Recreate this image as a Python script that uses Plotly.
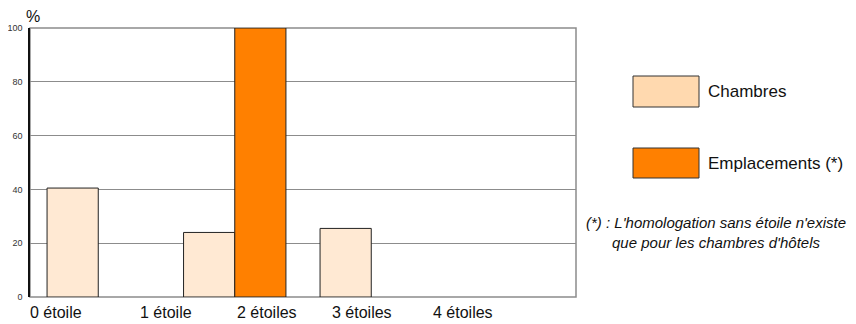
import plotly.graph_objects as go

# data
categories = ['0 étoile', '1 étoile', '2 étoiles', '3 étoiles']
chambres = [40.5, 24, 25.5, None]
emplacements = [None, 100, None, None]
tick_labels = ['0 étoile', '1 étoile', '2 étoiles', '3 étoiles', '4 étoiles']
series_names = ['Chambres', 'Emplacements (*)']
footnote = "(*) : L'homologation sans étoile n'existe<br>que pour les chambres d'hôtels"

# page has an 8px body margin, so the figure is drawn 8px in from the top-left corner
OFF = 8
W, H = 856 - OFF, 324 - OFF
L, R, T, B = 30 - OFF, 280, 28 - OFF, 27
FONT = 'Liberation Sans, Arial, sans-serif'


def px_x(p):
    return (p - OFF - L) / (W - L - R)


def px_y(p):
    return (H - B - (p - OFF)) / (H - T - B)


fig = go.Figure()
fig.add_trace(go.Bar(x=categories, y=chambres, name=series_names[0],
                     marker=dict(color='#FFE9D3', line=dict(color='#222', width=1))))
fig.add_trace(go.Bar(x=categories, y=emplacements, name=series_names[1],
                     marker=dict(color='#FF8000', line=dict(color='#222', width=1))))

# frame (top/right grey)
shapes = [dict(type='rect', xref='paper', yref='paper', x0=0, x1=1, y0=0, y1=1,
               line=dict(color='#8c8c8c', width=1.5), layer='below')]

# legend swatches
legend_rows = [(76, 107, '#FFD9AF'), (148, 178, '#FF8000')]
annotations = []
for (top, bot, col), name in zip(legend_rows, series_names):
    shapes.append(dict(type='rect', xref='paper', yref='paper',
                       x0=px_x(633), x1=px_x(699), y0=px_y(bot), y1=px_y(top),
                       fillcolor=col, line=dict(color='#333', width=1)))
    annotations.append(dict(xref='paper', yref='paper', x=px_x(706), y=px_y((top + bot) / 2),
                            text=name, showarrow=False, xanchor='left', yanchor='middle',
                            font=dict(size=17, color='#111', family=FONT)))

# x labels (placed as in the original chart)
label_px = [56, 166, 267, 362, 463]
for lab, p in zip(tick_labels, label_px):
    annotations.append(dict(xref='paper', yref='paper', x=px_x(p), y=px_y(312),
                            text=lab, showarrow=False, xanchor='center', yanchor='middle',
                            font=dict(size=16, color='#111', family=FONT)))

annotations.append(dict(xref='paper', yref='paper', x=px_x(33), y=px_y(16),
                        text='%', showarrow=False, xanchor='center', yanchor='middle',
                        font=dict(size=16, color='#111', family=FONT)))
annotations.append(dict(xref='paper', yref='paper', x=px_x(716), y=px_y(232),
                        text='<i>' + footnote + '</i>', showarrow=False, align='center',
                        xanchor='center', yanchor='middle',
                        font=dict(size=15, color='#111', family=FONT)))

fig.update_layout(
    width=W, height=H,
    margin=dict(l=L, r=R, t=T, b=B, autoexpand=False),
    paper_bgcolor='white', plot_bgcolor='white',
    barmode='group', bargap=0.25, bargroupgap=0,
    showlegend=False,
    font=dict(family=FONT, color='#222'),
    xaxis=dict(showticklabels=False, showgrid=False, ticks='', range=[-0.5, 3.5],
               automargin=False),
    yaxis=dict(range=[0, 100], dtick=20, showgrid=True, gridcolor='#8c8c8c', gridwidth=1,
               showline=True, linecolor='#111', linewidth=1.5, zeroline=False,
               tickfont=dict(size=9, color='#333'), ticks='', ticklabelstandoff=4,
               automargin=False),
    shapes=shapes,
    annotations=annotations,
)

fig.write_html('out.html')
